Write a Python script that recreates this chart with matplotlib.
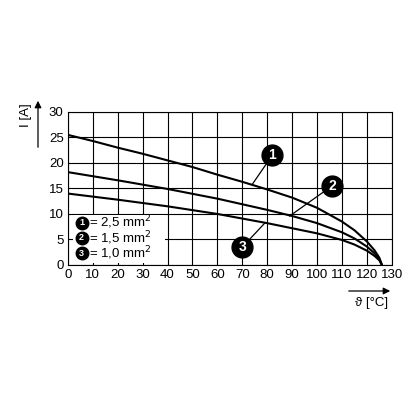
import matplotlib
matplotlib.use("Agg")
import matplotlib.pyplot as plt
plt.rcParams['font.family'] = ['Liberation Sans', 'DejaVu Sans']

x1 = [0, 10, 20, 30, 40, 50, 60, 70, 80, 90, 100, 110, 115, 120, 123, 125, 126]
y1 = [25.5, 24.3, 23.0, 21.8, 20.5, 19.2, 17.7, 16.3, 14.8, 13.2, 11.2, 8.5, 6.8, 4.6, 2.9, 1.4, 0]
x2 = [0, 20, 40, 60, 80, 90, 100, 110, 115, 120, 123, 125, 126]
y2 = [18.2, 16.6, 14.9, 13.0, 10.8, 9.6, 8.2, 6.4, 5.2, 3.6, 2.3, 1.1, 0]
x3 = [0, 20, 40, 60, 80, 100, 110, 115, 120, 123, 125, 126]
y3 = [14.0, 12.8, 11.5, 10.0, 8.2, 6.2, 4.9, 4.0, 2.8, 1.8, 0.9, 0]
labels = ["1", "2", "3"]
legend_text = ["= 2,5 mm$^2$", "= 1,5 mm$^2$", "= 1,0 mm$^2$"]

fig = plt.figure(figsize=(4.16, 4.16), dpi=100)
ax = fig.add_axes([0.163, 0.363, 0.779, 0.368])
ax.set_xlim(0, 130); ax.set_ylim(0, 30)
ax.set_xticks(range(0, 131, 10)); ax.set_yticks(range(0, 31, 5))
ax.grid(True, color="black", lw=0.8)
for s in ax.spines.values():
    s.set_linewidth(0.8)
ax.tick_params(length=0, labelsize=9.5, pad=3)
for x, y in [(x1, y1), (x2, y2), (x3, y3)]:
    ax.plot(x, y, color="black", lw=1.5, zorder=3)

# legend box
ax.add_patch(plt.Rectangle((2, 0.3), 37, 9.4, facecolor="white", edgecolor="none", zorder=2))
for i, (lab, txt) in enumerate(zip(labels, legend_text)):
    yy = 8.3 - i * 3.0
    ax.plot(5.5, yy, "o", ms=9, color="black", zorder=4)
    ax.text(5.5, yy, lab, color="white", ha="center", va="center", fontsize=6.5, fontweight="bold", zorder=5)
    ax.text(8.5, yy, txt, ha="left", va="center", fontsize=9.5, zorder=5)

# callouts
for lab, (cx, cy), (px, py) in zip(labels, [(82, 21.5), (106, 15.5), (70, 3.5)], [(74, 15.8), (89, 9.6), (79, 8.2)]):
    ax.plot([cx, px], [cy, py], color="black", lw=0.9, zorder=3)
    ax.plot(cx, cy, "o", ms=15, color="black", zorder=4)
    ax.text(cx, cy, lab, color="white", ha="center", va="center", fontsize=10, fontweight="bold", zorder=5)

# axis arrows and labels
fig.add_artist(matplotlib.patches.FancyArrowPatch((38/416, 1-150/416), (38/416, 1-98/416), transform=fig.transFigure, arrowstyle="-|>", mutation_scale=10, lw=0.9, color="black"))
fig.text(26/416, 1-115/416, "I [A]", rotation=90, ha="center", va="center", fontsize=9.5)
fig.add_artist(matplotlib.patches.FancyArrowPatch((346/416, 1-291/416), (393/416, 1-291/416), transform=fig.transFigure, arrowstyle="-|>", mutation_scale=10, lw=0.9, color="black"))
fig.text(372/416, 1-303/416, "ϑ [°C]", ha="center", va="center", fontsize=9.5)

fig.savefig("out.png", dpi=100)
